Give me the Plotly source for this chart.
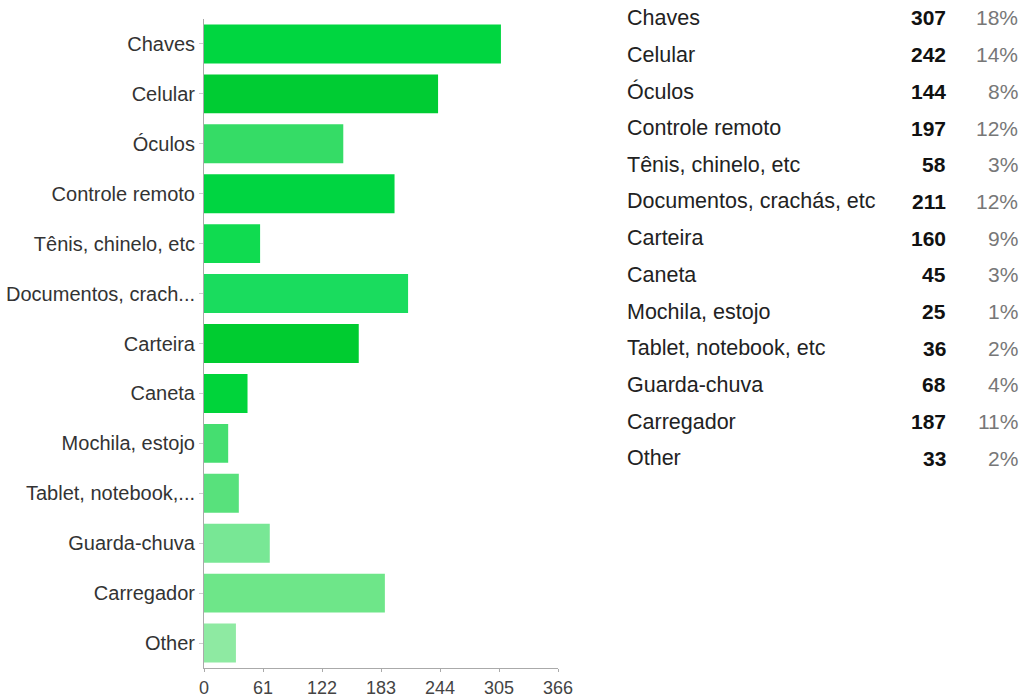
import plotly.graph_objects as go

categories = ["Chaves", "Celular", "Óculos", "Controle remoto", "Tênis, chinelo, etc",
              "Documentos, crachás, etc", "Carteira", "Caneta", "Mochila, estojo",
              "Tablet, notebook, etc", "Guarda-chuva", "Carregador", "Other"]
axis_labels = ["Chaves", "Celular", "Óculos", "Controle remoto", "Tênis, chinelo, etc",
               "Documentos, crach...", "Carteira", "Caneta", "Mochila, estojo",
               "Tablet, notebook,...", "Guarda-chuva", "Carregador", "Other"]
counts = [307, 242, 144, 197, 58, 211, 160, 45, 25, 36, 68, 187, 33]
percents = ["18%", "14%", "8%", "12%", "3%", "12%", "9%", "3%", "1%", "2%", "4%", "11%", "2%"]
bar_colors = ["#00d640", "#00cc33", "#35dc66", "#00d541", "#10db50", "#1adc5e", "#00cc30",
              "#00d43a", "#45de70", "#58e17c", "#78e795", "#6ee689", "#8eeaa2"]
x_ticks = [0, 61, 122, 183, 244, 305, 366]

W, H = 1025, 697
L, R, T, B = 204, 467, 19, 29
pw, ph = W - L - R, H - T - B

fig = go.Figure()
fig.add_trace(go.Bar(
    x=counts, y=categories, orientation="h",
    marker=dict(color=bar_colors, line=dict(width=0)),
    hoverinfo="x+y", showlegend=False,
))

fig.update_layout(
    width=W, height=H,
    margin=dict(l=L, r=R, t=T, b=B, pad=0, autoexpand=False),
    paper_bgcolor="white", plot_bgcolor="white",
    bargap=0.22,
    font=dict(family="Liberation Sans, Arial, sans-serif", color="#333"),
    xaxis=dict(range=[0, 366], tickvals=x_ticks, ticktext=[str(v) for v in x_ticks],
               showgrid=False, zeroline=False, showline=True, linecolor="#aaaaaa",
               linewidth=1, ticks="outside", ticklen=3, tickcolor="#aaaaaa",
               tickfont=dict(size=18, color="#444"), fixedrange=True, automargin=False),
    yaxis=dict(categoryorder="array", categoryarray=categories, autorange="reversed",
               tickvals=categories, ticktext=axis_labels,
               showgrid=False, showline=True, linecolor="#aaaaaa", linewidth=1,
               ticks="outside", ticklen=4, tickcolor="#cccccc",
               tickfont=dict(size=20, color="#333"), fixedrange=True, automargin=False),
)

# table on the right
row_y0, row_dy = 18, 36.7
def px_x(px):
    return (px - L) / pw
def px_y(py):
    return (H - B - py) / ph

for i, (c, n, p) in enumerate(zip(categories, counts, percents)):
    yy = px_y(row_y0 + i * row_dy)
    fig.add_annotation(xref="paper", yref="paper", x=px_x(625), y=yy, text=c,
                       showarrow=False, xanchor="left", yanchor="middle",
                       font=dict(size=21.5, color="#222"))
    fig.add_annotation(xref="paper", yref="paper", x=px_x(948), y=yy, text="<b>%d</b>" % n,
                       showarrow=False, xanchor="right", yanchor="middle",
                       font=dict(size=21, color="#111"))
    fig.add_annotation(xref="paper", yref="paper", x=px_x(1020), y=yy, text=p,
                       showarrow=False, xanchor="right", yanchor="middle",
                       font=dict(size=21, color="#777"))

fig.write_html("out.html", config={"displayModeBar": False})
